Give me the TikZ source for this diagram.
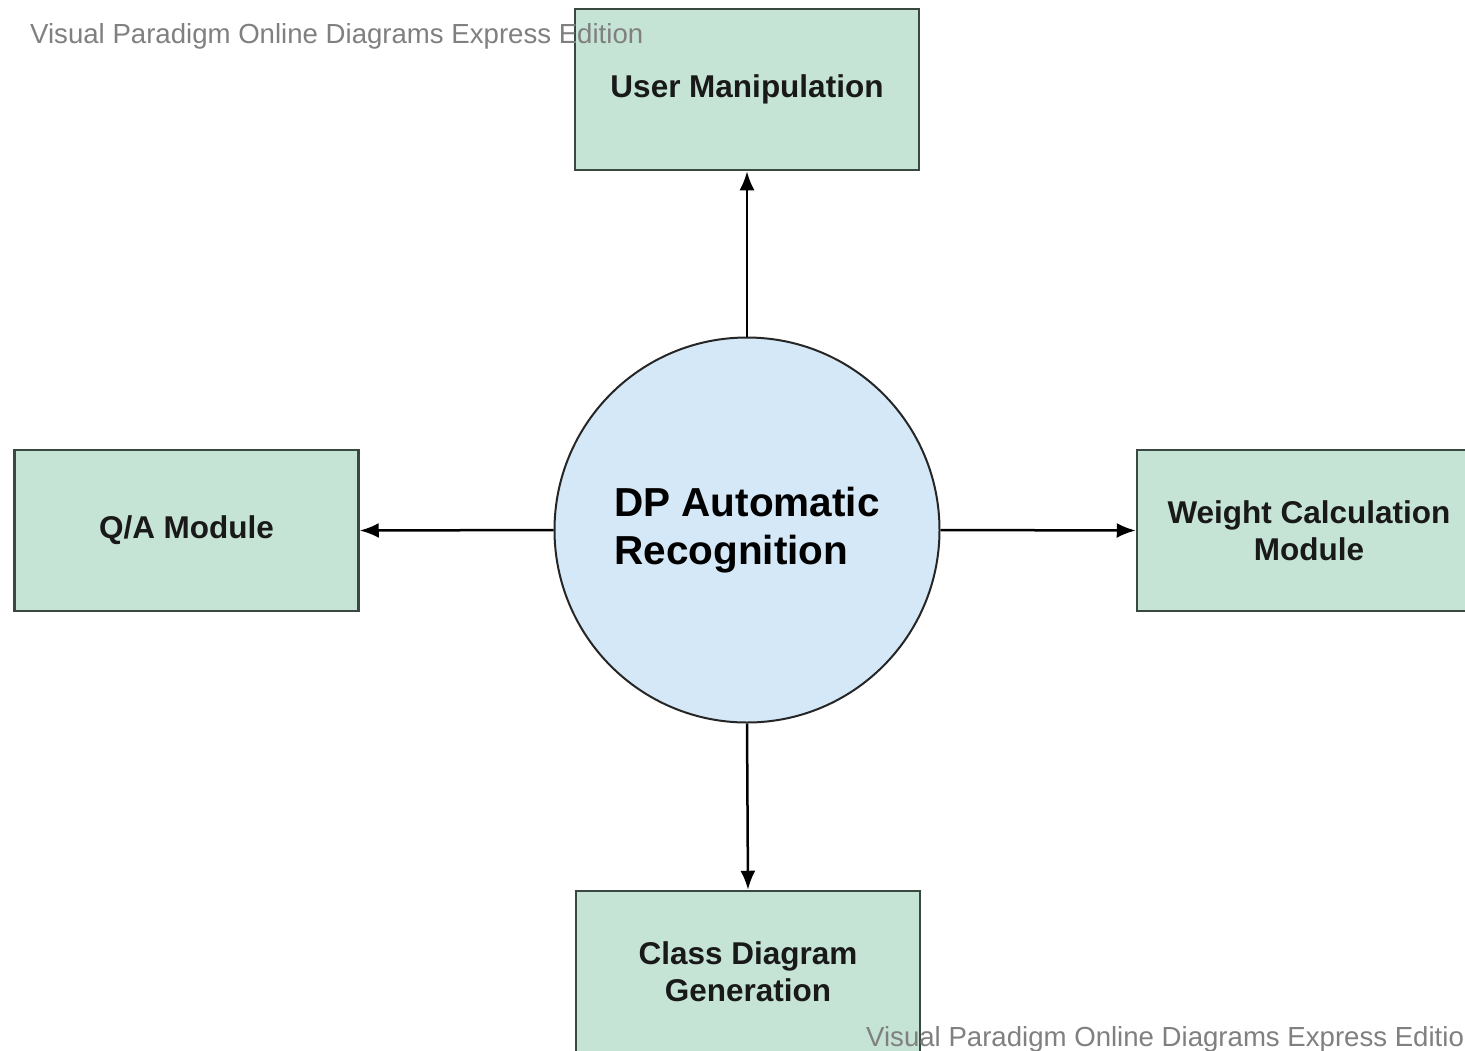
\documentclass[tikz,border=0pt]{standalone}
\usepackage{fontspec}
\setmainfont{Liberation Sans}
\usetikzlibrary{arrows.meta}
\definecolor{boxfill}{RGB}{197,228,214}
\definecolor{boxline}{RGB}{58,72,66}
\definecolor{circfill}{RGB}{212,232,247}
\definecolor{wmgray}{RGB}{128,128,128}
\tikzset{
  module/.style={draw=boxline, line width=2.5pt, fill=boxfill, rectangle,
    minimum width=344pt, minimum height=161pt, inner sep=0pt, align=center,
    font=\fontsize{31.5}{37}\selectfont\bfseries, text=black!90},
  process/.style={draw=black!85, line width=2pt, fill=circfill, circle,
    minimum size=385pt, inner sep=0pt, align=left,
    font=\fontsize{40.5}{48}\selectfont\bfseries, text=black},
  flow/.style={draw=black, line width=2.5pt, -{Latex[length=19pt,width=15pt]}},
  watermark/.style={text=wmgray, font=\fontsize{27.6}{32}\selectfont, inner sep=0pt, anchor=base west}
}
\begin{document}
\begin{tikzpicture}[x=1pt,y=-1pt]
\useasboundingbox (0,0) rectangle (1465,1050);
\clip (0,0) rectangle (1465,1050);
\fill[white] (0,0) rectangle (1465,1050);
\node[process] (dp) at (747,530) {DP Automatic\\Recognition};
\node[module] (um) at (747,89.5) {User Manipulation};
\node[module] (qa) at (186.5,530.5) {Q/A Module};
\node[module] (wc) at (1309,530.5) {Weight Calculation\\Module};
\node[module] (cd) at (748,971.5) {Class Diagram\\Generation};
\draw[flow] (dp.north) -- (um.south);
\draw[flow] (dp.west) -- (qa.east);
\draw[flow] (dp.east) -- (wc.west);
\draw[flow] (dp.south) -- (cd.north);
\node[watermark] (wm1) at (30,43) {Visual Paradigm Online Diagrams Express Edition};
\node[watermark] (wm2) at (866,1046) {Visual Paradigm Online Diagrams Express Edition};
\end{tikzpicture}
\end{document}
